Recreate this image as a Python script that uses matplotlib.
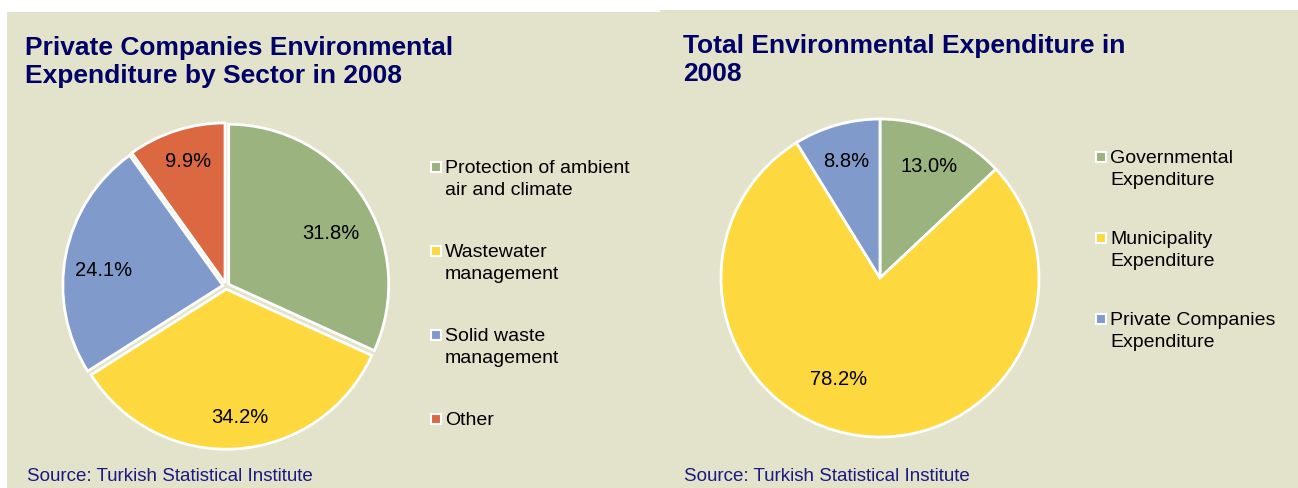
import matplotlib.pyplot as plt
from matplotlib.patches import Rectangle

plt.rcParams['font.family'] = ['Liberation Sans', 'DejaVu Sans']

# data
sector_labels = ['Protection of ambient\nair and climate', 'Wastewater\nmanagement',
                 'Solid waste\nmanagement', 'Other']
sector_share = [31.8, 34.2, 24.1, 9.9]

total_labels = ['Governmental\nExpenditure', 'Municipality\nExpenditure',
                'Private Companies\nExpenditure']
total_share = [13.0, 78.2, 8.8]

colors4 = ['#9BB37E', '#FDD83F', '#7F9ACB', '#DC6842']
colors3 = ['#9BB37E', '#FDD83F', '#7F9ACB']

bg = '#E3E2CB'
navy = '#000066'
W, H = 1298, 489

fig = plt.figure(figsize=(W / 100, H / 100), dpi=100, facecolor='white')


def fx(x):
    return x / W


def fy(y):
    return 1 - y / H


# panel backgrounds
fig.patches.append(Rectangle((fx(7), 0), fx(660 - 7), fy(13), transform=fig.transFigure,
                             facecolor=bg, edgecolor='none', zorder=-2))
fig.patches.append(Rectangle((fx(660), 0), fx(W - 660), fy(11), transform=fig.transFigure,
                             facecolor=bg, edgecolor='none', zorder=-2))


def pie_axes(cx, cy, r, lim=1.05):
    half = r * lim
    ax = fig.add_axes([fx(cx - half), fy(cy + half), 2 * half / W, 2 * half / H])
    ax.set_facecolor('none')
    return ax


# left pie
ax1 = pie_axes(226, 287, 160)
w1, t1, a1 = ax1.pie(sector_share, colors=colors4, startangle=90, counterclock=False,
                     explode=[0.02] * 4, autopct='%.1f%%', pctdistance=0.78,
                     wedgeprops=dict(edgecolor='white', linewidth=2),
                     textprops=dict(fontsize=14.5, color='black'))
ax1.set_xlim(-1.05, 1.05)
ax1.set_ylim(-1.05, 1.05)
ax1.set_aspect('equal')
# excel-style label nudges
for t, (dx, dy) in zip(a1, [(-0.02, -0.1), (0.03, -0.02), (0.02, -0.05), (0.01, 0.02)]):
    x, y = t.get_position()
    t.set_position((x + dx, y + dy))

# right pie
ax2 = pie_axes(880, 279, 159)
w2, t2, a2 = ax2.pie(total_share, colors=colors3, startangle=90, counterclock=False,
                     autopct='%.1f%%', pctdistance=0.77,
                     wedgeprops=dict(edgecolor='white', linewidth=2),
                     textprops=dict(fontsize=14.5, color='black'))
ax2.set_xlim(-1.05, 1.05)
ax2.set_ylim(-1.05, 1.05)
ax2.set_aspect('equal')
# big slice label sits left of its centre line, like the original
x, y = a2[1].get_position()
a2[1].set_position((x - 0.16, y + 0.13))

# titles
fig.text(fx(25), fy(36), 'Private Companies Environmental\nExpenditure by Sector in 2008',
         fontsize=19, fontweight='bold', color=navy, va='top', linespacing=1.22)
fig.text(fx(683), fy(34), 'Total Environmental Expenditure in\n2008',
         fontsize=19, fontweight='bold', color=navy, va='top', linespacing=1.2)


# legends drawn as marker + text
def legend(x, y0, step, labels, colors):
    for i, (lab, c) in enumerate(zip(labels, colors)):
        y = y0 + i * step
        fig.patches.append(Rectangle((fx(x - 5), fy(y + 13)), 10 / W, 10 / H,
                                     transform=fig.transFigure, facecolor=c,
                                     edgecolor='white', linewidth=1.5, zorder=3))
        fig.text(fx(x + 9), fy(y), lab, fontsize=14, color='black', va='top',
                 linespacing=1.35, transform=fig.transFigure)


legend(436, 160, 84, sector_labels, colors4)
legend(1101, 150, 81, total_labels, colors3)

# sources
fig.text(fx(27), fy(477), 'Source: Turkish Statistical Institute', fontsize=13.5,
         color='#1A1A80', va='center')
fig.text(fx(684), fy(477), 'Source: Turkish Statistical Institute', fontsize=13.5,
         color='#1A1A80', va='center')

fig.savefig('out.png', dpi=100, facecolor='white')
